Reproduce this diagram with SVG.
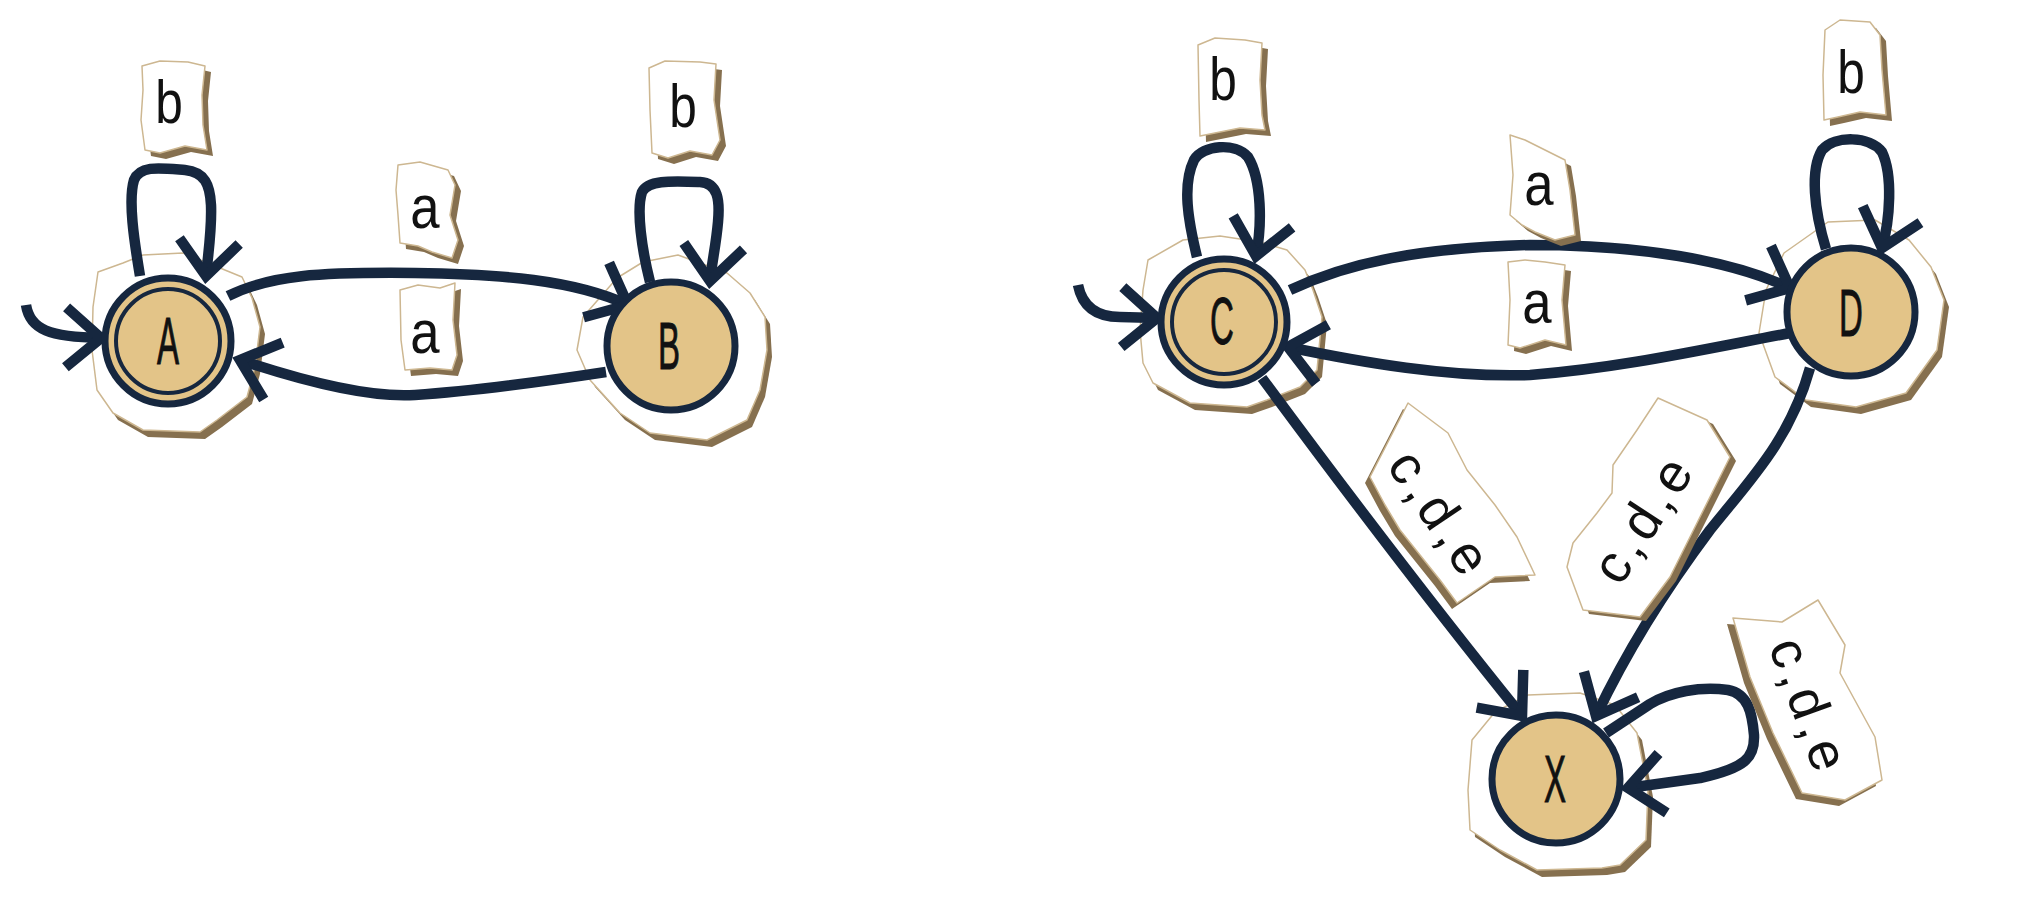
<svg xmlns="http://www.w3.org/2000/svg" width="2022" height="916" viewBox="0 0 2022 916">
  <style>
    .paper { fill: #ffffff; stroke: #cdb791; stroke-width: 1.5; stroke-linejoin: round; }
    .shadow { fill: #86704f; }
    .edge { fill: none; stroke: #16273f; stroke-width: 10.5; stroke-linecap: butt; stroke-linejoin: round; marker-end: url(#ah); }
    .start { fill: none; stroke: #16273f; stroke-width: 10.5; marker-end: url(#ah); }
    .state { fill: #e3c488; stroke: #16273f; stroke-width: 7; }
    .inner { fill: none; stroke: #16273f; stroke-width: 4; }
    .nl { font-family: "Liberation Sans", Arial, sans-serif; font-size: 66px; fill: #111; text-anchor: middle; stroke: #111; stroke-width: 1; }
    .lb { font-family: "Liberation Sans", Arial, sans-serif; font-size: 62px; fill: #111; text-anchor: middle; }
    .lc { font-family: "Liberation Sans", Arial, sans-serif; font-size: 54px; fill: #111; text-anchor: middle; letter-spacing: 5px; }
  </style>
  <defs>
    <marker id="ah" markerUnits="userSpaceOnUse" markerWidth="100" markerHeight="100" viewBox="-70 -50 100 100" refX="0" refY="0" orient="auto" overflow="visible">
      <path d="M-35,-30 L0,0 L-35,30" fill="none" stroke="#16273f" stroke-width="10.5" stroke-linejoin="miter"/>
    </marker>
  </defs>

  <!-- paper backdrops behind states -->
  <g id="backdrops">
    <g transform="translate(5,7)" class="shadow">
      <polygon points="98,272 123,263 143,255 183,253 220,268 242,277 252,298 260,327 255,367 247,397 217,420 200,432 143,430 113,413 97,390 92,350 93,307"/>
      <polygon points="617,278 643,262 678,255 727,273 750,293 765,317 767,350 760,390 747,420 707,440 650,433 620,413 590,380 577,350 583,317"/>
      <polygon points="1148,260 1183,240 1220,236 1260,242 1287,250 1305,270 1313,290 1322,317 1317,370 1300,387 1267,400 1247,407 1190,403 1153,383 1143,363 1140,330 1143,290"/>
      <polygon points="1784,253 1828,222 1875,220 1909,240 1931,267 1944,300 1937,350 1906,393 1856,407 1806,400 1775,377 1759,333 1766,290"/>
      <polygon points="1528,695 1580,693 1615,705 1637,733 1648,790 1646,840 1620,865 1602,868 1537,870 1500,850 1470,830 1468,790 1472,740 1495,712"/>
    </g>
    <polygon class="paper" points="98,272 123,263 143,255 183,253 220,268 242,277 252,298 260,327 255,367 247,397 217,420 200,432 143,430 113,413 97,390 92,350 93,307"/>
    <polygon class="paper" points="617,278 643,262 678,255 727,273 750,293 765,317 767,350 760,390 747,420 707,440 650,433 620,413 590,380 577,350 583,317"/>
    <polygon class="paper" points="1148,260 1183,240 1220,236 1260,242 1287,250 1305,270 1313,290 1322,317 1317,370 1300,387 1267,400 1247,407 1190,403 1153,383 1143,363 1140,330 1143,290"/>
    <polygon class="paper" points="1784,253 1828,222 1875,220 1909,240 1931,267 1944,300 1937,350 1906,393 1856,407 1806,400 1775,377 1759,333 1766,290"/>
    <polygon class="paper" points="1528,695 1580,693 1615,705 1637,733 1648,790 1646,840 1620,865 1602,868 1537,870 1500,850 1470,830 1468,790 1472,740 1495,712"/>
  </g>

  <!-- connectors -->
  <g id="connectors">
    <path id="e-start-A" class="start" d="M26,305 C30,330 50,337 101,338"/>
    <path id="e-A-A" class="edge" d="M140,276 C134,240 128,200 134,180 C140,165 160,168 185,170 C205,172 210,185 211,205 C212,230 208,255 206,276"/>
    <path id="e-A-B" class="edge" d="M228,296 C270,275 320,272 415,273 C500,274 575,280 628,305"/>
    <path id="e-B-A" class="edge" d="M606,372 C540,382 460,392 415,395 C370,398 300,380 240,360"/>
    <path id="e-B-B" class="edge" d="M650,282 C642,250 636,210 642,192 C648,180 670,181 700,182 C718,183 720,200 718,222 C716,245 712,262 710,281"/>

    <path id="e-start-C" class="start" d="M1078,285 C1082,305 1095,317 1120,317 L1157,318"/>
    <path id="e-C-C" class="edge" d="M1197,257 C1188,220 1182,185 1194,160 C1203,145 1235,142 1248,157 C1262,180 1262,225 1256,256"/>
    <path id="e-C-D" class="edge" d="M1290,290 C1350,262 1420,248 1530,245 C1640,245 1730,260 1790,288"/>
    <path id="e-D-C" class="edge" d="M1790,333 C1700,350 1620,368 1530,375 C1450,378 1360,362 1288,347"/>
    <path id="e-D-D" class="edge" d="M1826,249 C1814,210 1810,170 1822,150 C1835,135 1870,136 1882,152 C1893,175 1890,220 1882,248"/>
    <path id="e-C-X" class="edge" d="M1262,378 C1330,470 1420,590 1522,716"/>
    <path id="e-D-X" class="edge" d="M1810,368 C1790,440 1750,480 1710,530 C1665,590 1625,655 1596,716"/>
    <path id="e-X-X" class="edge" d="M1606,733 L1650,704 C1670,692 1700,686 1728,690 C1748,694 1752,712 1754,735 C1755,758 1745,768 1700,778 L1628,788"/>
  </g>

  <!-- edge labels -->
  <g id="labels">
    <g transform="translate(6,6)" class="shadow">
      <polygon points="142,66 160,61 188,62 205,66 202,95 203,125 207,150 185,146 160,153 145,150 141,120 143,90"/>
      <polygon points="649,68 665,61 700,62 716,64 714,100 720,140 712,155 690,151 668,158 652,153 650,110"/>
      <polygon points="398,165 420,162 448,170 455,185 450,215 458,240 452,258 432,252 418,246 400,243 398,215 396,190"/>
      <polygon points="400,290 418,285 440,288 455,283 453,320 457,355 452,370 430,368 405,370 401,340"/>
      <polygon points="1198,45 1215,38 1245,40 1262,43 1260,80 1262,115 1265,130 1240,128 1215,133 1200,136 1199,100"/>
      <polygon points="1510,135 1525,140 1545,150 1565,160 1570,190 1575,235 1555,240 1535,232 1522,225 1510,215 1513,175"/>
      <polygon points="1508,262 1525,260 1545,262 1565,265 1562,300 1566,345 1545,340 1520,348 1508,345 1510,300"/>
      <polygon points="1825,30 1840,20 1870,22 1880,35 1882,70 1886,115 1860,112 1838,117 1824,120 1823,75"/>
    </g>
    <polygon class="shadow" transform="translate(-5,6)" points="1408,403 1448,433 1467,470 1495,505 1517,537 1535,575 1495,577 1457,603 1440,580 1400,530 1385,505 1370,477"/>
    <polygon class="shadow" transform="translate(6,4)" points="1658,398 1707,420 1730,457 1697,523 1670,577 1640,617 1583,610 1567,567 1573,543 1597,513 1612,493 1613,465 1637,430"/>
    <polygon class="shadow" transform="translate(-6,6)" points="1733,618 1782,622 1818,600 1845,645 1840,673 1875,737 1882,780 1845,800 1802,793 1773,733 1750,677"/>

    <polygon class="paper" points="142,66 160,61 188,62 205,66 202,95 203,125 207,150 185,146 160,153 145,150 141,120 143,90"/>
    <polygon class="paper" points="649,68 665,61 700,62 716,64 714,100 720,140 712,155 690,151 668,158 652,153 650,110"/>
    <polygon class="paper" points="398,165 420,162 448,170 455,185 450,215 458,240 452,258 432,252 418,246 400,243 398,215 396,190"/>
    <polygon class="paper" points="400,290 418,285 440,288 455,283 453,320 457,355 452,370 430,368 405,370 401,340"/>
    <polygon class="paper" points="1198,45 1215,38 1245,40 1262,43 1260,80 1262,115 1265,130 1240,128 1215,133 1200,136 1199,100"/>
    <polygon class="paper" points="1510,135 1525,140 1545,150 1565,160 1570,190 1575,235 1555,240 1535,232 1522,225 1510,215 1513,175"/>
    <polygon class="paper" points="1508,262 1525,260 1545,262 1565,265 1562,300 1566,345 1545,340 1520,348 1508,345 1510,300"/>
    <polygon class="paper" points="1825,30 1840,20 1870,22 1880,35 1882,70 1886,115 1860,112 1838,117 1824,120 1823,75"/>
    <polygon class="paper" points="1408,403 1448,433 1467,470 1495,505 1517,537 1535,575 1495,577 1457,603 1440,580 1400,530 1385,505 1370,477"/>
    <polygon class="paper" points="1658,398 1707,420 1730,457 1697,523 1670,577 1640,617 1583,610 1567,567 1573,543 1597,513 1612,493 1613,465 1637,430"/>
    <polygon class="paper" points="1733,618 1782,622 1818,600 1845,645 1840,673 1875,737 1882,780 1845,800 1802,793 1773,733 1750,677"/>

    <text class="lb" transform="translate(169,123) scale(0.8,1)">b</text>
    <text class="lb" transform="translate(683,127) scale(0.8,1)">b</text>
    <text class="lb" transform="translate(425,228) scale(0.85,1)">a</text>
    <text class="lb" transform="translate(425,353) scale(0.85,1)">a</text>
    <text class="lb" transform="translate(1223,100) scale(0.8,1)">b</text>
    <text class="lb" transform="translate(1539,205) scale(0.85,1)">a</text>
    <text class="lb" transform="translate(1537,323) scale(0.85,1)">a</text>
    <text class="lb" transform="translate(1851,93) scale(0.8,1)">b</text>

    <text class="lc" transform="translate(1436,515) rotate(56)" x="2" y="14">c,d,e</text>
    <text class="lc" transform="translate(1646,522) rotate(-57)" x="2" y="14">c,d,e</text>
    <text class="lc" transform="translate(1805,706) rotate(70)" x="2" y="14">c,d,e</text>
  </g>

  <!-- states -->
  <g id="node-A">
    <circle class="state" cx="168" cy="341" r="63"/>
    <circle class="inner" cx="168" cy="341" r="52"/>
    <text class="nl" transform="translate(168,364) scale(0.5,1)">A</text>
  </g>
  <g id="node-B">
    <circle class="state" cx="671" cy="346" r="64"/>
    <text class="nl" transform="translate(669,369) scale(0.5,1)">B</text>
  </g>
  <g id="node-C">
    <circle class="state" cx="1224" cy="322" r="63"/>
    <circle class="inner" cx="1224" cy="322" r="52"/>
    <text class="nl" transform="translate(1222,344) scale(0.5,1)">C</text>
  </g>
  <g id="node-D">
    <circle class="state" cx="1851" cy="312" r="64"/>
    <text class="nl" transform="translate(1851,336) scale(0.5,1)">D</text>
  </g>
  <g id="node-X">
    <circle class="state" cx="1556" cy="779" r="64"/>
    <text class="nl" transform="translate(1555,802) scale(0.5,1)">X</text>
  </g>
</svg>
